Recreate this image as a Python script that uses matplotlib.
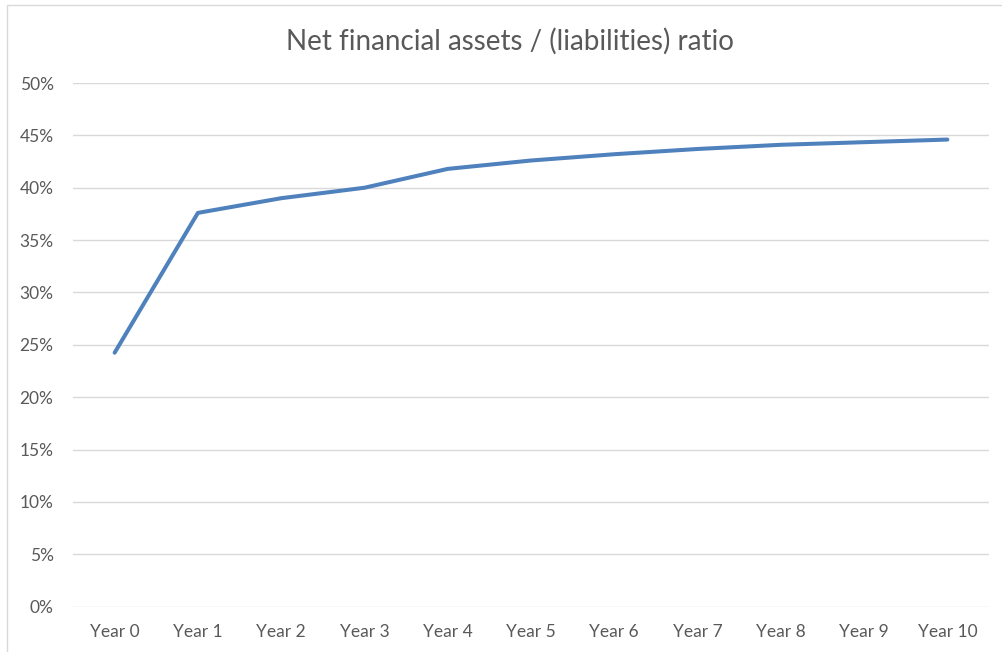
import matplotlib
matplotlib.use("Agg")
import matplotlib.pyplot as plt
from matplotlib.ticker import FuncFormatter, MultipleLocator
from matplotlib.patches import Rectangle

categories = ["Year 0", "Year 1", "Year 2", "Year 3", "Year 4", "Year 5",
              "Year 6", "Year 7", "Year 8", "Year 9", "Year 10"]
ratio = [0.2425, 0.376, 0.390, 0.400, 0.418, 0.426, 0.432, 0.437, 0.441, 0.4435, 0.446]
title = "Net financial assets / (liabilities) ratio"

plt.rcParams['font.family'] = ['Lato', 'DejaVu Sans']
W, H = 1003, 652
fig = plt.figure(figsize=(W / 100, H / 100), dpi=100)
fig.patch.set_facecolor("white")

# chart area border (top and left visible)
fig.add_artist(Rectangle((7.5 / W, -0.1), 1.2, (H - 4.5) / H + 0.1,
                         transform=fig.transFigure, fill=False,
                         edgecolor="#D9D9D9", linewidth=1.0))

ax = fig.add_axes([73 / W, 1 - 606.7 / H, (989 - 73) / W, (606.7 - 83) / H])
x = list(range(len(categories)))
ax.plot(x, ratio, color="#4F81BD", linewidth=2.9, solid_capstyle="round",
        solid_joinstyle="round", zorder=3)

ax.set_xlim(-0.5, len(categories) - 0.5)
ax.set_ylim(0, 0.5)
ax.yaxis.set_major_locator(MultipleLocator(0.05))
ax.yaxis.set_major_formatter(FuncFormatter(lambda v, p: f"{round(v * 100)}%"))
ax.set_xticks(x)
ax.set_xticklabels(categories)
ax.grid(axis="y", color="#D9D9D9", linewidth=1.0)
ax.set_axisbelow(True)
for s in ax.spines.values():
    s.set_visible(False)
ax.tick_params(axis="both", length=0, colors="#595959", labelsize=12.5)
ax.tick_params(axis="y", pad=14)
ax.tick_params(axis="x", pad=12.5)

fig.text(510 / W, 1 - 41 / H, title, ha="center", va="center",
         fontsize=20, color="#595959")

fig.savefig("out.png", dpi=100, facecolor="white")
